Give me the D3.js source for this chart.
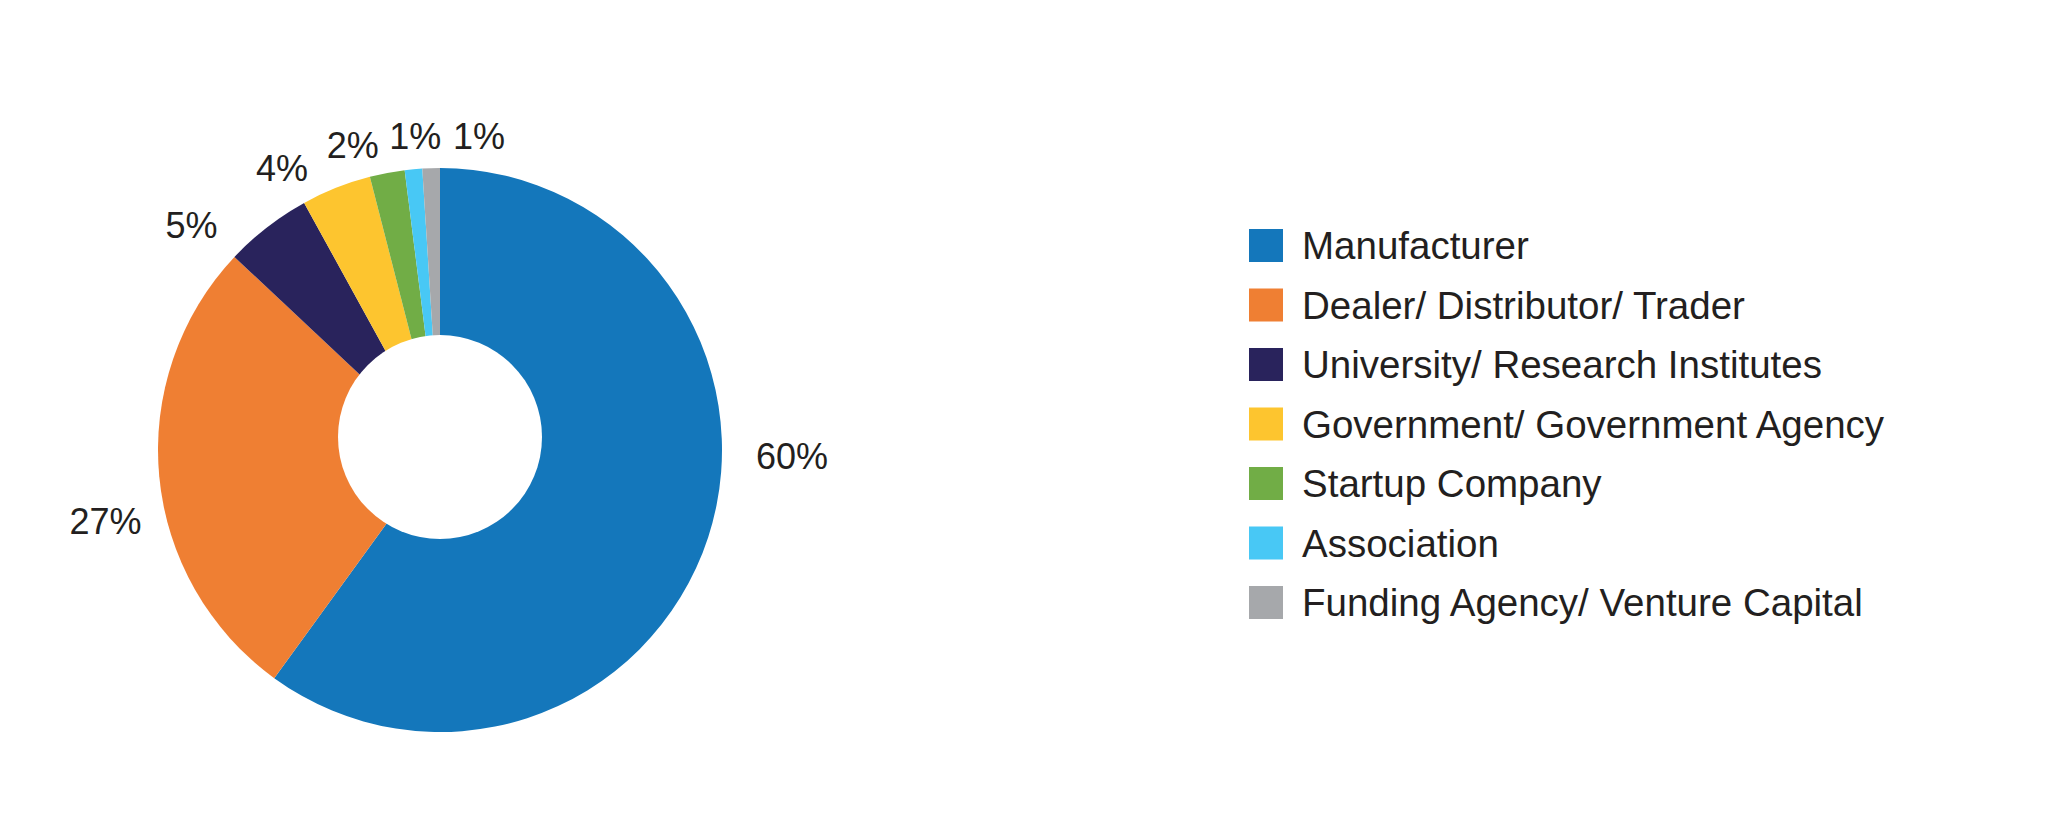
<!DOCTYPE html>
<html>
<head>
<meta charset="utf-8">
<script src="https://cdn.jsdelivr.net/npm/d3@7"></script>
<style>
  html, body { margin: 0; padding: 0; background: #ffffff; }
  svg { display: block; }
  text { font-family: "Liberation Sans", Arial, sans-serif; fill: #231f20; }
</style>
</head>
<body>
<svg id="chart" width="2048" height="836"></svg>
<script>
// ---- data ----
const categories = [
  "Manufacturer",
  "Dealer/ Distributor/ Trader",
  "University/ Research Institutes",
  "Government/ Government Agency",
  "Startup Company",
  "Association",
  "Funding Agency/ Venture Capital"
];
const values = [60, 27, 5, 4, 2, 1, 1];
const valueLabels = ["60%", "27%", "5%", "4%", "2%", "1%", "1%"];
const colors = ["#1477bb", "#ef7f33", "#29235c", "#fdc52f", "#71ad46", "#48c8f5", "#a6a8ab"];

// ---- layout (label placement in polar coords: angle in degrees clockwise from 12 o'clock, radius px) ----
const labelAngles = [91, 258, 312.2, 330.7, 344, 355.5, 7.1];
const labelRadii = [352, 342, 335.6, 323, 316.8, 314.5, 316];

const W = 2048, H = 836;
const cx = 440, cy = 450;
const outerR = 282, holeR = 102, holeDy = -13;

const svg = d3.select("#chart");
svg.append("rect").attr("width", W).attr("height", H).attr("fill", "#ffffff");

const pie = d3.pie().sort(null).value(d => d).startAngle(0).endAngle(2 * Math.PI);
const arcs = pie(values);
const arc = d3.arc().innerRadius(0).outerRadius(outerR);

const g = svg.append("g").attr("transform", `translate(${cx},${cy})`);
g.selectAll("path.slice")
  .data(arcs)
  .join("path")
  .attr("class", "slice")
  .attr("d", arc)
  .attr("fill", (d, i) => colors[i]);

// donut hole
g.append("circle")
  .attr("cx", 0)
  .attr("cy", holeDy)
  .attr("r", holeR)
  .attr("fill", "#ffffff");

// value labels
const labelFs = 36;
g.selectAll("text.val")
  .data(arcs)
  .join("text")
  .attr("class", "val")
  .attr("text-anchor", "middle")
  .attr("font-size", labelFs)
  .attr("x", (d, i) => labelRadii[i] * Math.sin(labelAngles[i] * Math.PI / 180))
  .attr("y", (d, i) => -labelRadii[i] * Math.cos(labelAngles[i] * Math.PI / 180) + labelFs * 0.36)
  .text((d, i) => valueLabels[i]);

// legend
const legendX = 1249, legendY = 229, rowH = 59.5, sw = 34, swH = 33;
const legend = svg.append("g").attr("transform", `translate(${legendX},${legendY})`);
const rows = legend.selectAll("g.row")
  .data(categories)
  .join("g")
  .attr("class", "row")
  .attr("transform", (d, i) => `translate(0,${i * rowH})`);
rows.append("rect")
  .attr("width", sw)
  .attr("height", swH)
  .attr("fill", (d, i) => colors[i]);
rows.append("text")
  .attr("x", 53)
  .attr("y", 30)
  .attr("font-size", 38.5)
  .text(d => d);
</script>
</body>
</html>
